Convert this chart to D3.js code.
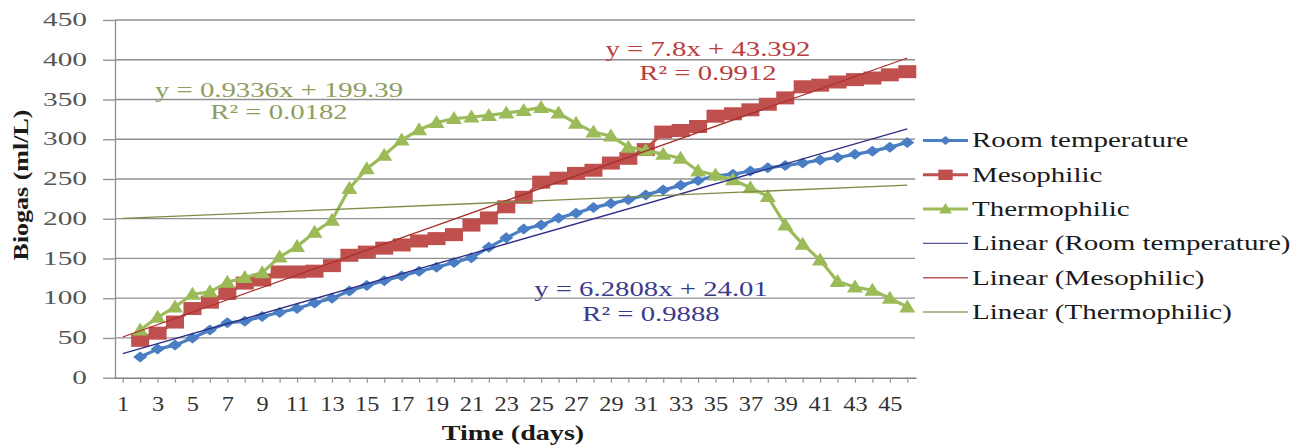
<!DOCTYPE html>
<html>
<head>
<meta charset="utf-8">
<script src="https://cdn.jsdelivr.net/npm/d3@7"></script>
<style>
  body { margin: 0; background: #fff; }
  svg { display: block; }
  text { font-family: "Liberation Serif", "Times New Roman", serif; }
</style>
</head>
<body>
<svg width="1307" height="445"></svg>
<script>

// DATA ––––––––––––––––––––––––––––––––––––––––––––––––––––––––––––––––

var days = [1, 2, 3, 4, 5, 6, 7, 8, 9, 10, 11, 12, 13, 14, 15, 16, 17, 18, 19, 20, 21, 22, 23,
            24, 25, 26, 27, 28, 29, 30, 31, 32, 33, 34, 35, 36, 37, 38, 39, 40, 41, 42, 43, 44, 45, 46];

// biogas (ml/L) per day, day 1 has no reading
var roomTemp = [null, 26, 36, 41, 50, 60, 69, 71, 77, 82, 87, 94, 100, 109, 116, 122, 128, 134, 139, 145,
                151, 164, 176, 187, 192, 201, 207, 214, 219, 224, 230, 236, 242, 248, 254, 256, 260, 264,
                267, 270, 274, 277, 281, 285, 290, 296];
var mesophilic = [null, 47, 56, 70, 87, 95, 106, 119, 123, 133, 133, 134, 141, 154, 158, 163, 167, 172, 175, 180,
                  192, 201, 215, 227, 246, 251, 257, 261, 270, 276, 287, 309, 311, 316, 329, 332, 337, 344,
                  352, 366, 368, 372, 375, 377, 381, 385];
var thermophilic = [null, 60, 76, 89, 105, 108, 120, 126, 132, 152, 165, 183, 198, 238, 263, 280, 299, 312, 321, 326,
                    328, 330, 333, 336, 340, 333, 320, 309, 304, 290, 286, 281, 276, 260, 255, 249, 239, 228,
                    192, 168, 148, 121, 114, 110, 100, 89];

var seriesNames = ["Room temperature", "Mesophilic", "Thermophilic"];
var trendNames = ["Linear (Room temperature)", "Linear (Mesophilic)", "Linear (Thermophilic)"];
var trendSlope = [6.2808, 7.8, 0.9336];
var trendIntercept = [24.01, 43.392, 199.39];
var eqLabels = ["y = 6.2808x + 24.01", "y = 7.8x + 43.392", "y = 0.9336x + 199.39"];
var r2Labels = ["R² = 0.9888", "R² = 0.9912", "R² = 0.0182"];
var yTicks = [0, 50, 100, 150, 200, 250, 300, 350, 400, 450];


// D3 ––––––––––––––––––––––––––––––––––––––––––––––––––––––––––––––––––

var draw = function() {

  var svg = d3.select("svg");
  var serif = "'Liberation Serif', 'Times New Roman', serif";

  var colors = ["#4a7ec4", "#c0504d", "#9bbb59"];
  var trendColors = ["#2e2c84", "#a8302d", "#7f8c48"];
  var eqColors = ["#3b3b8c", "#b8403d", "#8f9e5e"];
  var allSeries = [roomTemp, mesophilic, thermophilic];

  var x = d3.scalePoint().domain(days).range([114, 916]).padding(0.5);
  var y = d3.scaleLinear().domain([0, 450]).range([377.7, 20]);

  // marker shapes, drawn wider than tall like the picture
  var shapes = [
    function(s) { return "M0," + (-5.5*s) + "L" + (7*s) + ",0L0," + (5.5*s) + "L" + (-7*s) + ",0Z"; },
    function(s) { return "M" + (-9*s) + "," + (-6.5*s) + "H" + (9*s) + "V" + (6.5*s) + "H" + (-9*s) + "Z"; },
    function(s) { return "M0," + (-7.5*s) + "L" + (8*s) + "," + (5.5*s) + "H" + (-8*s) + "Z"; }
  ];

  // gridlines
  svg.append("g")
    .selectAll("line")
    .data(yTicks.slice(1))
    .join("line")
      .attr("x1", 115).attr("x2", 915)
      .attr("y1", function(d) { return y(d); })
      .attr("y2", function(d) { return y(d); })
      .attr("stroke", "#909090")
      .attr("stroke-width", 1.3);

  // y axis
  var ya = svg.append("g")
      .attr("transform", "translate(115,0)")
      .attr("font-family", serif)
      .call(d3.axisLeft(y).tickValues(yTicks).tickSize(12).tickSizeOuter(0));
  ya.select(".domain").attr("stroke", "#909090").attr("stroke-width", 1.3);
  ya.selectAll(".tick line").attr("stroke", "#909090").attr("stroke-width", 1.3);
  ya.selectAll(".tick text")
      .attr("x", 0)
      .attr("transform", "translate(-28,0) scale(1.63,1)")
      .attr("font-size", 18)
      .attr("fill", "#555");

  // x axis
  var xa = svg.append("g")
      .attr("transform", "translate(0," + y(0) + ")")
      .attr("font-family", serif)
      .call(d3.axisBottom(x).tickSize(5).tickSizeOuter(0));
  xa.select(".domain").attr("stroke", "#808080").attr("stroke-width", 1.5);
  xa.selectAll(".tick line").attr("stroke", "#909090").attr("stroke-width", 1.2);
  xa.selectAll(".tick text")
      .attr("y", 0).attr("dy", null)
      .attr("transform", "translate(0,33) scale(1.22,1)")
      .attr("font-size", 20)
      .attr("fill", "#333")
      .text(function(d) { return d % 2 === 1 ? d : ""; });

  // axis titles
  svg.append("text")
      .attr("transform", "translate(513,440) scale(1.34,1)")
      .attr("text-anchor", "middle")
      .attr("font-weight", "bold")
      .attr("font-size", 21)
      .attr("fill", "#1a1a1a")
      .text("Time (days)");

  svg.append("text")
      .attr("transform", "translate(28,185) rotate(-90) scale(1.3,1)")
      .attr("text-anchor", "middle")
      .attr("font-weight", "bold")
      .attr("font-size", 20)
      .attr("fill", "#1a1a1a")
      .text("Biogas (ml/L)");

  // series lines + markers
  var line = d3.line()
    .defined(function(d) { return d != null; })
    .x(function(d, i) { return x(days[i]); })
    .y(function(d) { return y(d); });

  allSeries.forEach(function(data, k) {
    svg.append("path")
      .datum(data)
      .attr("fill", "none")
      .attr("stroke", colors[k])
      .attr("stroke-width", 3.2)
      .attr("stroke-linejoin", "round")
      .attr("d", line);

    svg.append("g")
      .selectAll("path")
      .data(data.map(function(v, i) { return {day: days[i], v: v}; }).filter(function(d) { return d.v != null; }))
      .join("path")
        .attr("transform", function(d) { return "translate(" + x(d.day) + "," + y(d.v) + ")"; })
        .attr("d", shapes[k](1))
        .attr("fill", colors[k]);
  });

  // trendlines
  allSeries.forEach(function(data, k) {
    var d0 = days[0], d1 = days[days.length - 1];
    svg.append("line")
      .attr("x1", x(d0)).attr("y1", y(trendSlope[k] * d0 + trendIntercept[k]))
      .attr("x2", x(d1)).attr("y2", y(trendSlope[k] * d1 + trendIntercept[k]))
      .attr("stroke", trendColors[k])
      .attr("stroke-width", 1.3);
  });

  // equation labels
  var eqPos = [[651, 296, 321], [708, 56, 80], [279, 97, 119]];
  eqPos.forEach(function(p, k) {
    [eqLabels[k], r2Labels[k]].forEach(function(t, j) {
      svg.append("text")
        .attr("transform", "translate(" + p[0] + "," + p[1 + j] + ") scale(1.37,1)")
        .attr("text-anchor", "middle")
        .attr("font-size", 21)
        .attr("fill", eqColors[k])
        .text(t);
    });
  });

  // legend
  var legend = svg.append("g").attr("transform", "translate(923,140.5)");
  var items = seriesNames.map(function(n, k) { return {name: n, color: colors[k], shape: k, trend: false}; })
    .concat(trendNames.map(function(n, k) { return {name: n, color: trendColors[k], shape: -1, trend: true}; }));

  items.forEach(function(it, i) {
    var g = legend.append("g").attr("transform", "translate(0," + (i * 34.3) + ")");
    g.append("line")
      .attr("x1", 0).attr("x2", 45)
      .attr("stroke", it.trend ? d3.interpolateRgb(it.color, "#ffffff")(0.2) : it.color)
      .attr("stroke-width", it.trend ? 1.4 : 3);
    if (it.shape >= 0) {
      g.append("path")
        .attr("transform", "translate(22.5,0)")
        .attr("d", shapes[it.shape](0.8))
        .attr("fill", it.color);
    }
    g.append("text")
      .attr("transform", "translate(49,0) scale(1.38,1)")
      .attr("dy", "0.33em")
      .attr("font-size", 21)
      .attr("fill", "#1a1a1a")
      .text(it.name);
  });
};

draw();
</script>
</body>
</html>
